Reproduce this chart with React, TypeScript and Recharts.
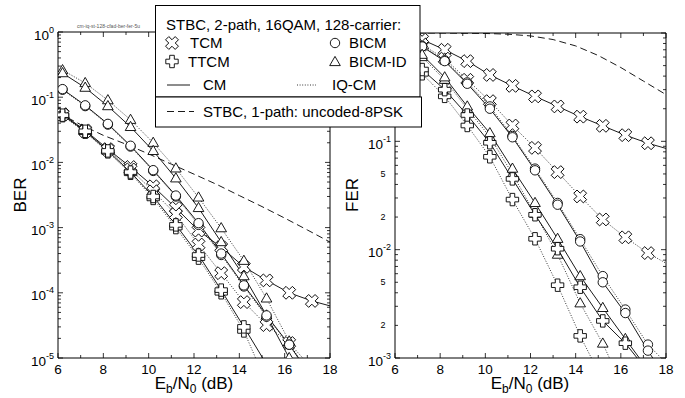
import React from 'react';
import { LineChart, Line, XAxis, YAxis, ReferenceArea } from 'recharts';

type P = [number, number];

const FONT = '"Liberation Sans", Arial, Helvetica, sans-serif';

// ---- BER panel (left) ----
const berUncoded: P[] = [[6, 0.058], [7, 0.038], [8, 0.026], [9, 0.019], [10, 0.0135], [11, 0.0094], [12, 0.0066], [13, 0.0046], [14, 0.0031], [15, 0.0021], [16, 0.0014], [17, 0.00092], [18, 0.0006]];
const berTcmCm: P[] = [[6.2, 0.055], [7.2, 0.031], [8.2, 0.016], [9.2, 0.0085], [10.2, 0.0043], [11.2, 0.002], [12.2, 0.0009], [13.2, 0.0005], [14.2, 0.00025], [15.2, 0.000155], [16.2, 0.0001], [17.2, 0.000075], [18, 0.000063]];
const berTcmIq: P[] = [[6.2, 0.054], [7.2, 0.03], [8.2, 0.0155], [9.2, 0.0078], [10.2, 0.0036], [11.2, 0.0016], [12.2, 0.00055], [13.2, 0.0002], [14.2, 0.000072], [15.2, 0.000032], [16.2, 0.000017], [17.2, 0.000007]];
const berTtcmCm: P[] = [[6.2, 0.053], [7.2, 0.03], [8.2, 0.015], [9.2, 0.0071], [10.2, 0.003], [11.2, 0.0011], [12.2, 0.00038], [13.2, 0.00011], [14.2, 0.00003], [15.2, 0.000008]];
const berTtcmIq: P[] = [[6.2, 0.052], [7.2, 0.029], [8.2, 0.0145], [9.2, 0.0068], [10.2, 0.0028], [11.2, 0.001], [12.2, 0.00034], [13.2, 0.0001], [14.2, 0.000026], [15.2, 0.0000041]];
const berBicmCm: P[] = [[6.2, 0.133], [7.2, 0.075], [8.2, 0.039], [9.2, 0.018], [10.2, 0.0076], [11.2, 0.0031], [12.2, 0.00117], [13.2, 0.0004], [14.2, 0.00013], [15.2, 0.000045], [16.2, 0.000016], [17.2, 0.000005]];
const berBicmIq: P[] = [[6.2, 0.13], [7.2, 0.073], [8.2, 0.038], [9.2, 0.0175], [10.2, 0.0074], [11.2, 0.003], [12.2, 0.0011], [13.2, 0.00038], [14.2, 0.000125], [15.2, 0.000043], [16.2, 0.000016], [17.2, 0.0000055]];
const berBicmIdCm: P[] = [[6.2, 0.234], [7.2, 0.14], [8.2, 0.073], [9.2, 0.035], [10.2, 0.015], [11.2, 0.0057], [12.2, 0.002], [13.2, 0.0006], [14.2, 0.00018], [15.2, 0.000045], [16.2, 0.00001], [16.7, 0.000004]];
const berBicmIdIq: P[] = [[6.2, 0.26], [7.2, 0.165], [8.2, 0.09], [9.2, 0.045], [10.2, 0.02], [11.2, 0.0081], [12.2, 0.0029], [13.2, 0.00098], [14.2, 0.00031], [15.2, 0.000082], [16.2, 0.000018], [17.2, 0.000004]];

// ---- FER panel (right) ----
const ferUncoded: P[] = [[6, 1], [8, 0.999], [10, 0.99], [11, 0.975], [12, 0.94], [13, 0.87], [14, 0.76], [15, 0.62], [16, 0.48], [17, 0.36], [18, 0.27]];
const ferTcmCm: P[] = [[6.2, 0.96], [7.2, 0.87], [8.2, 0.7], [9.2, 0.55], [10.2, 0.41], [11.2, 0.325], [12.2, 0.26], [13.2, 0.21], [14.2, 0.169], [15.2, 0.139], [16.2, 0.114], [17.2, 0.096], [18, 0.086]];
const ferTcmIq: P[] = [[6.2, 0.93], [7.2, 0.78], [8.2, 0.58], [9.2, 0.37], [10.2, 0.235], [11.2, 0.14], [12.2, 0.087], [13.2, 0.052], [14.2, 0.031], [15.2, 0.019], [16.2, 0.013], [17.2, 0.0093], [18, 0.0075]];
const ferTtcmCm: P[] = [[6.2, 0.72], [7.2, 0.46], [8.2, 0.3], [9.2, 0.175], [10.2, 0.097], [11.2, 0.045], [12.2, 0.021], [13.2, 0.0102], [14.2, 0.0045], [15.2, 0.0022], [16.2, 0.00137], [17.2, 0.00075]];
const ferTtcmIq: P[] = [[6.2, 0.68], [7.2, 0.42], [8.2, 0.26], [9.2, 0.14], [10.2, 0.072], [11.2, 0.029], [12.2, 0.0126], [13.2, 0.0047], [14.2, 0.0016], [15.2, 0.00062]];
const ferBicmCm: P[] = [[6.2, 0.9], [7.2, 0.75], [8.2, 0.55], [9.2, 0.34], [10.2, 0.2], [11.2, 0.109], [12.2, 0.054], [13.2, 0.026], [14.2, 0.0119], [15.2, 0.005], [16.2, 0.0026], [17.2, 0.00117], [18, 0.00065]];
const ferBicmIq: P[] = [[6.2, 0.9], [7.2, 0.76], [8.2, 0.56], [9.2, 0.35], [10.2, 0.21], [11.2, 0.112], [12.2, 0.056], [13.2, 0.027], [14.2, 0.0125], [15.2, 0.0057], [16.2, 0.0028], [17.2, 0.00133], [18, 0.0009]];
const ferBicmIdCm: P[] = [[6.2, 0.85], [7.2, 0.63], [8.2, 0.39], [9.2, 0.21], [10.2, 0.119], [11.2, 0.056], [12.2, 0.027], [13.2, 0.0126], [14.2, 0.0057], [15.2, 0.0029], [16.2, 0.0015], [17.2, 0.00078]];
const ferBicmIdIq: P[] = [[6.2, 0.83], [7.2, 0.6], [8.2, 0.37], [9.2, 0.2], [10.2, 0.11], [11.2, 0.05], [12.2, 0.0215], [13.2, 0.009], [14.2, 0.0032], [15.2, 0.00136], [16.2, 0.00048]];

// ticks
const xTicks = [6, 7, 8, 9, 10, 11, 12, 13, 14, 15, 16, 17, 18];
const xLabels = [6, 8, 10, 12, 14, 16, 18];
const berDecades = [1e-5, 1e-4, 1e-3, 1e-2, 1e-1, 1];
const ferDecades = [1e-3, 1e-2, 1e-1, 1];
const minorSteps = [2, 3, 4, 5, 6, 7, 8, 9];
const ferMinorLabels = [2, 5];

const DOTTED = '1 1.6';
const DASHED = '7 4';

type Kind = 'x' | 'plus' | 'circle' | 'tri' | null;
type Series = { data: P[]; kind: Kind; dash?: string };

const berSeries: Series[] = [
  { data: berUncoded, kind: null, dash: DASHED },
  { data: berTcmCm, kind: 'x' },
  { data: berTcmIq, kind: 'x', dash: DOTTED },
  { data: berBicmIdIq, kind: 'tri', dash: DOTTED },
  { data: berBicmIdCm, kind: 'tri' },
  { data: berBicmIq, kind: 'circle', dash: DOTTED },
  { data: berBicmCm, kind: 'circle' },
  { data: berTtcmIq, kind: 'plus', dash: DOTTED },
  { data: berTtcmCm, kind: 'plus' },
];

const ferSeries: Series[] = [
  { data: ferUncoded, kind: null, dash: DASHED },
  { data: ferTcmCm, kind: 'x' },
  { data: ferTcmIq, kind: 'x', dash: DOTTED },
  { data: ferBicmIq, kind: 'circle', dash: DOTTED },
  { data: ferBicmCm, kind: 'circle' },
  { data: ferBicmIdIq, kind: 'tri', dash: DOTTED },
  { data: ferBicmIdCm, kind: 'tri' },
  { data: ferTtcmIq, kind: 'plus', dash: DOTTED },
  { data: ferTtcmCm, kind: 'plus' },
];

const toPts = (s: P[]) => s.map(([x, y]) => ({ x, y }));

const crossPath = (r: number, a: number) =>
  `M${-a},${-r}H${a}V${-a}H${r}V${a}H${a}V${r}H${-a}V${a}H${-r}V${-a}H${-a}Z`;

function Marker({ kind, cx, cy }: { kind: Kind; cx: number; cy: number }) {
  const st = { fill: '#fff', stroke: '#000', strokeWidth: 0.9 };
  if (kind === 'x') return <path d={crossPath(6.8, 2.3)} transform={`translate(${cx},${cy}) rotate(45)`} {...st} />;
  if (kind === 'plus') return <path d={crossPath(6.2, 2.3)} transform={`translate(${cx},${cy})`} {...st} />;
  if (kind === 'circle') return <circle cx={cx} cy={cy} r={4.7} {...st} />;
  return <path d={`M${cx},${cy - 5.6}L${cx + 5.3},${cy + 3.6}L${cx - 5.3},${cy + 3.6}Z`} {...st} />;
}

const makeDot = (kind: Kind, yMin: number) => (props: any) => {
  const { cx, cy, payload, index } = props;
  if (cx == null || cy == null || payload.x >= 17.9 || payload.y < yMin) return <g key={index} />;
  return (
    <g key={index}>
      <Marker kind={kind} cx={cx} cy={cy} />
    </g>
  );
};

type Geo = { W: number; H: number; top: number; right: number; bottom: number; yAxisW: number; xAxisH: number; yMin: number; yMax: number; labelMax: number };

// labelMax: tick labels above this value sit under the legend box and are not shown
const BER_GEO: Geo = { W: 340, H: 398, top: 32, right: 10, bottom: 10, yAxisW: 58, xAxisH: 30, yMin: 1e-5, yMax: 1, labelMax: 1 };
const FER_GEO: Geo = { W: 345, H: 398, top: 33, right: 19, bottom: 10, yAxisW: 55, xAxisH: 30, yMin: 1e-3, yMax: 1, labelMax: 0.1 };

function Panel({ geo, series, decades, minorLabels }: { geo: Geo; series: Series[]; decades: number[]; minorLabels: number[] }) {
  const plotL = geo.yAxisW;
  const plotW = geo.W - geo.yAxisW - geo.right;
  const plotT = geo.top;
  const plotH = geo.H - geo.top - geo.bottom - geo.xAxisH;
  const plotB = plotT + plotH;

  const yTicks: number[] = [];
  decades.forEach((d) => {
    yTicks.push(d);
    if (d < geo.yMax) minorSteps.forEach((m) => yTicks.push(d * m));
  });

  const xTick = (props: any) => {
    const { x, payload } = props;
    const v = payload.value;
    const major = xLabels.includes(v);
    const len = major ? 5 : 3;
    return (
      <g>
        <line x1={x} x2={x} y1={plotB} y2={plotB - len} stroke="#000" strokeWidth={0.8} />
        <line x1={x} x2={x} y1={plotT} y2={plotT + len} stroke="#000" strokeWidth={0.8} />
        {major && (
          <text x={x} y={plotB + 16} textAnchor="middle" fontSize={13.5} fontFamily={FONT} fill="#000">
            {v}
          </text>
        )}
      </g>
    );
  };

  const yTick = (props: any) => {
    const { y, payload } = props;
    const v = payload.value;
    const e = Math.log10(v);
    const exp = Math.round(e);
    const isMajor = Math.abs(e - exp) < 1e-6;
    const mant = Math.round(v / Math.pow(10, Math.floor(e + 1e-9)));
    const len = isMajor ? 5 : 3;
    const showLabel = v <= geo.labelMax * 1.0001;
    return (
      <g>
        <line x1={plotL} x2={plotL + len} y1={y} y2={y} stroke="#000" strokeWidth={0.8} />
        <line x1={plotL + plotW} x2={plotL + plotW - len} y1={y} y2={y} stroke="#000" strokeWidth={0.8} />
        {showLabel && isMajor && (
          <text x={plotL - 4} y={y + 7.5} textAnchor="end" fontSize={13.5} fontFamily={FONT} fill="#000">
            <tspan>10</tspan>
            <tspan dy={-7} fontSize={9}>{exp}</tspan>
          </text>
        )}
        {showLabel && !isMajor && minorLabels.includes(mant) && (
          <text x={plotL - 12} y={y + 3} textAnchor="middle" fontSize={9} fontFamily={FONT} fill="#000">
            {mant}
          </text>
        )}
      </g>
    );
  };

  return (
    <LineChart width={geo.W} height={geo.H} margin={{ top: geo.top, right: geo.right, bottom: geo.bottom, left: 0 }}>
      <XAxis
        type="number"
        dataKey="x"
        domain={[6, 18]}
        ticks={xTicks}
        interval={0}
        allowDataOverflow
        height={geo.xAxisH}
        axisLine={false}
        tickLine={false}
        tick={xTick}
      />
      <YAxis
        type="number"
        scale="log"
        domain={[geo.yMin, geo.yMax]}
        ticks={yTicks}
        interval={0}
        allowDataOverflow
        width={geo.yAxisW}
        axisLine={false}
        tickLine={false}
        tick={yTick}
      />
      <ReferenceArea x1={6} x2={18} y1={geo.yMin} y2={geo.yMax} fill="none" stroke="#000" strokeWidth={1} />
      {series.map((s, i) => (
        <Line
          key={i}
          data={toPts(s.data)}
          dataKey="y"
          type="linear"
          stroke="#000"
          strokeWidth={s.dash === DOTTED ? 0.8 : 0.9}
          strokeDasharray={s.dash}
          dot={s.kind ? makeDot(s.kind, geo.yMin) : false}
          activeDot={false}
          isAnimationActive={false}
        />
      ))}
    </LineChart>
  );
}

function XLabel({ cx }: { cx: number }) {
  return (
    <text x={cx} y={389} textAnchor="middle" fontSize={17} fontFamily={FONT} fill="#000">
      <tspan>E</tspan>
      <tspan fontSize={12} dy={4}>b</tspan>
      <tspan dy={-4}>/N</tspan>
      <tspan fontSize={12} dy={4}>0</tspan>
      <tspan dy={-4}> (dB)</tspan>
    </text>
  );
}

function Overlay() {
  const lg = { fontSize: 15, fontFamily: FONT, fill: '#000' };
  return (
    <svg width={685} height={398} style={{ position: 'absolute', left: 0, top: 0, pointerEvents: 'none' }}>
      <text x={77} y={27.5} fontSize={5} fontFamily={FONT} fill="#555" textLength={63}>
        cm-iq-st-128-cfad-ber-fer-5u
      </text>
      <text transform="translate(26,195) rotate(-90)" textAnchor="middle" fontSize={17} fontFamily={FONT} fill="#000">
        BER
      </text>
      <text transform="translate(358,195) rotate(-90)" textAnchor="middle" fontSize={17} fontFamily={FONT} fill="#000">
        FER
      </text>
      <XLabel cx={194} />
      <XLabel cx={530} />

      <rect x={155.5} y={5.5} width={264.5} height={91.5} fill="#fff" stroke="#000" />
      <rect x={155.5} y={97} width={266} height={30} fill="#fff" stroke="#000" />
      <text x={166} y={29.5} {...lg}>STBC, 2-path, 16QAM, 128-carrier:</text>
      <Marker kind="x" cx={172} cy={43} />
      <text x={190} y={48} {...lg}>TCM</text>
      <Marker kind="plus" cx={172} cy={61.5} />
      <text x={188} y={66.5} {...lg}>TTCM</text>
      <line x1={167} x2={190} y1={85} y2={85} stroke="#000" strokeWidth={0.9} />
      <text x={203} y={90} {...lg}>CM</text>
      <Marker kind="circle" cx={335} cy={43} />
      <text x={349} y={48} {...lg}>BICM</text>
      <Marker kind="tri" cx={335} cy={62} />
      <text x={349} y={66.5} {...lg}>BICM-ID</text>
      <line x1={297} x2={316} y1={85} y2={85} stroke="#000" strokeWidth={0.8} strokeDasharray={DOTTED} />
      <text x={332} y={90} {...lg}>IQ-CM</text>
      <line x1={167} x2={194} y1={111.5} y2={111.5} stroke="#000" strokeWidth={0.9} strokeDasharray={DASHED} />
      <text x={203} y={116.5} {...lg}>STBC, 1-path: uncoded-8PSK</text>
    </svg>
  );
}

export default function App() {
  return (
    <div style={{ position: 'absolute', left: 0, top: 0, width: 685, height: 398, background: '#fff' }}>
      <div style={{ position: 'absolute', left: 0, top: 0 }}>
        <Panel geo={BER_GEO} series={berSeries} decades={berDecades} minorLabels={[]} />
      </div>
      <div style={{ position: 'absolute', left: 340, top: 0 }}>
        <Panel geo={FER_GEO} series={ferSeries} decades={ferDecades} minorLabels={ferMinorLabels} />
      </div>
      <Overlay />
    </div>
  );
}
